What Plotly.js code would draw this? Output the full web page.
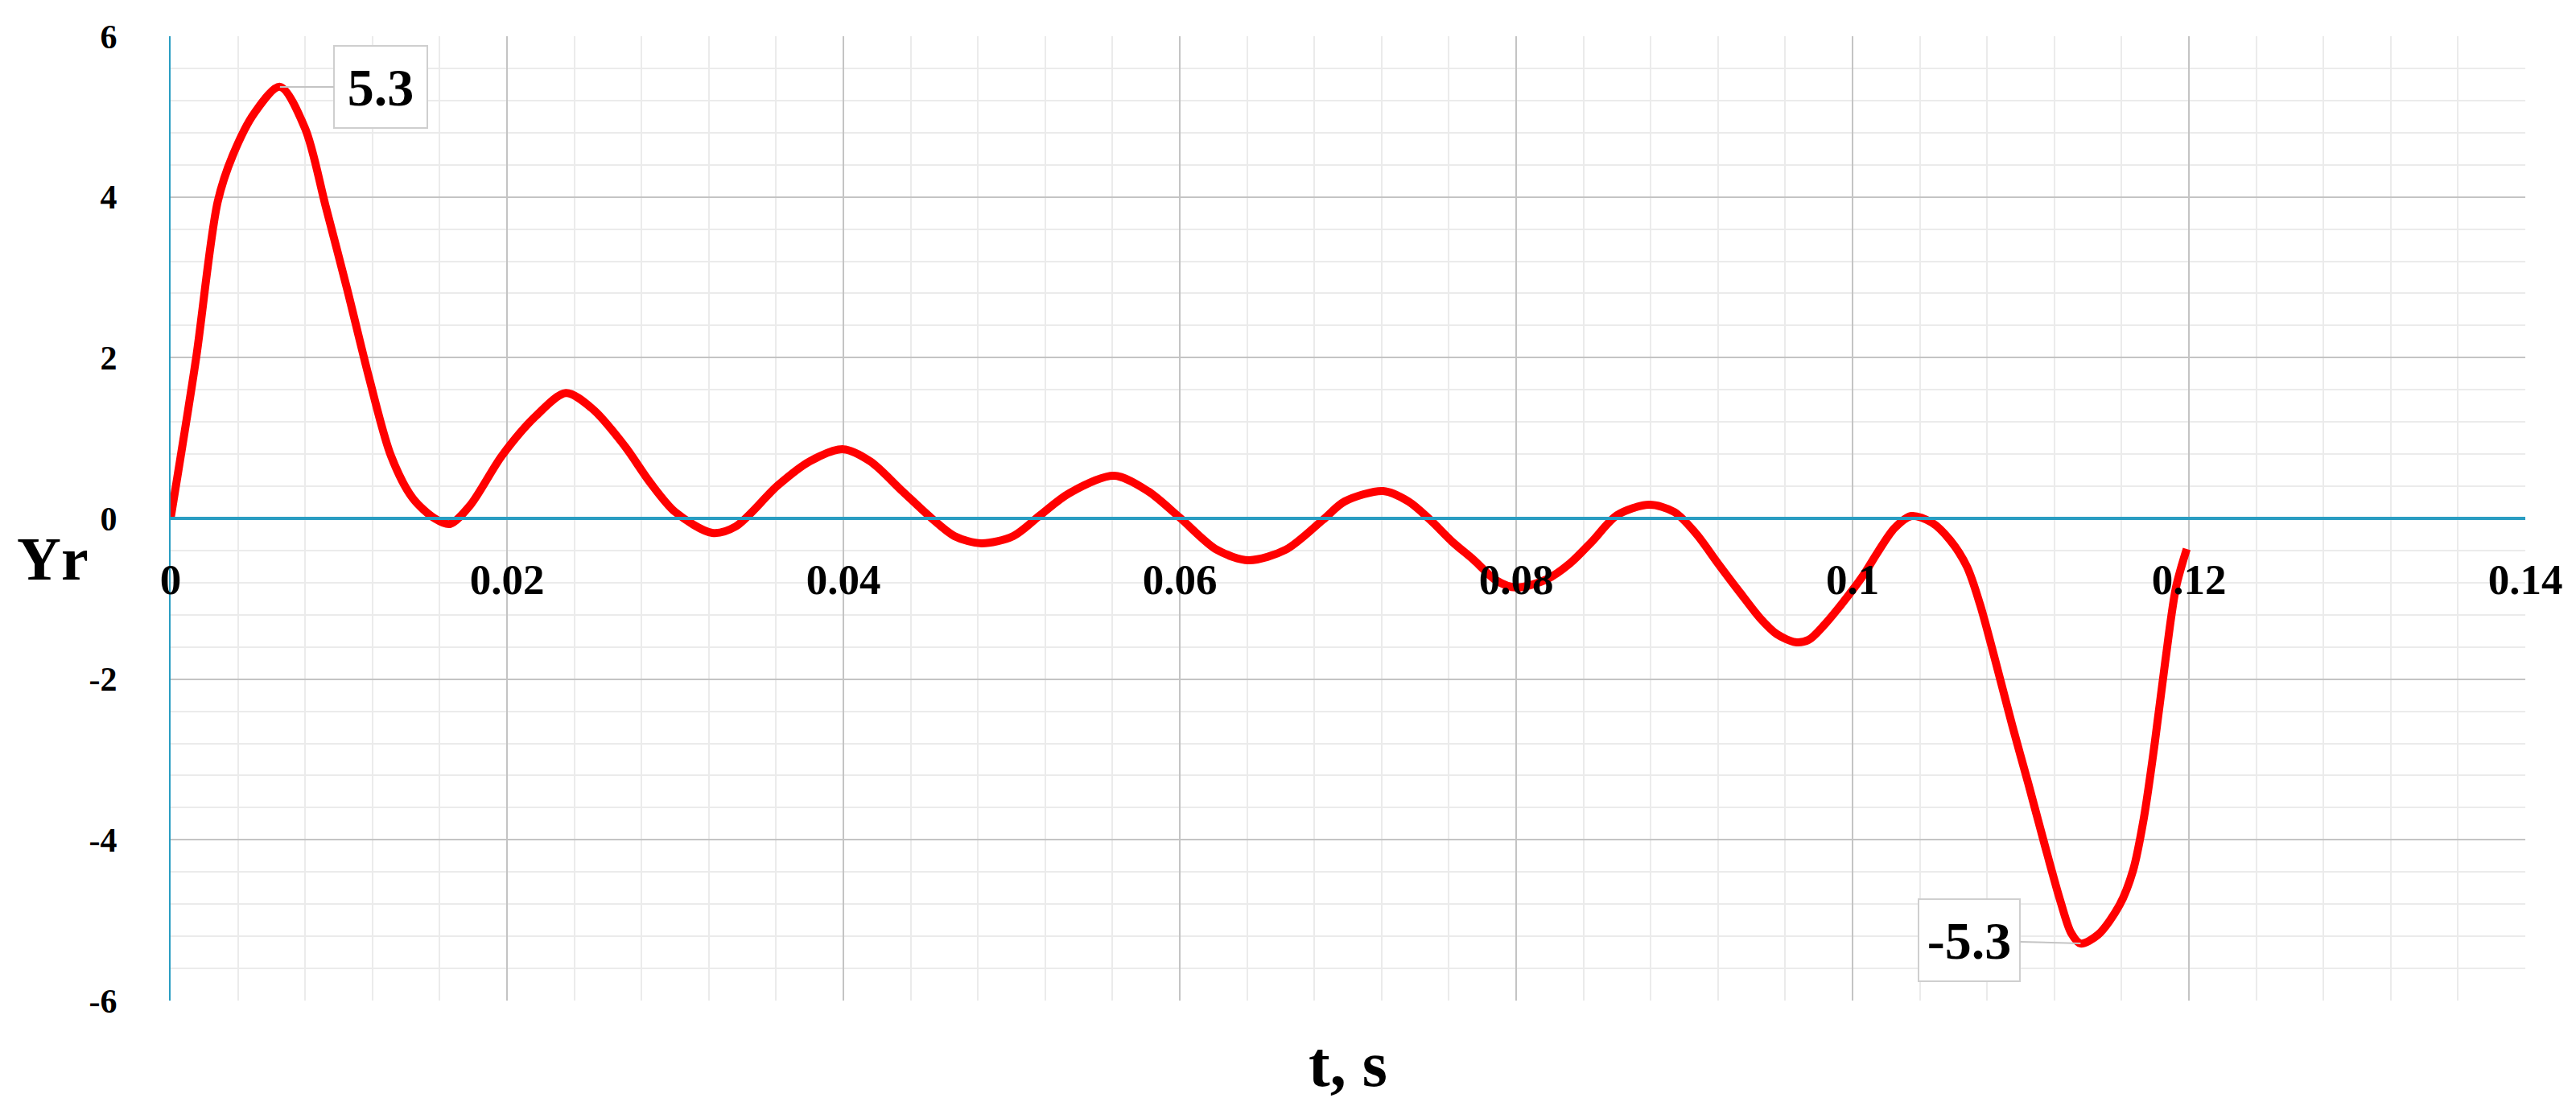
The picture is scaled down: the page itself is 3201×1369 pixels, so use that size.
<!DOCTYPE html>
<html>
<head>
<meta charset="utf-8">
<script src="https://cdn.plot.ly/plotly-3.0.1.min.js"></script>
<style>
  html, body { margin: 0; padding: 0; background: #ffffff; }
  #chart { width: 3201px; height: 1369px; }
</style>
</head>
<body>
<div id="chart"></div>
<script>
// Time (s)
const tValues = [0, 0.0015, 0.0028, 0.0037, 0.005, 0.0065, 0.008, 0.0092, 0.0105, 0.0118,
  0.0131, 0.0144, 0.0157, 0.0166, 0.0178, 0.0197, 0.0217, 0.0235, 0.0251, 0.027,
  0.0285, 0.03, 0.0322, 0.0336, 0.0361, 0.038, 0.04, 0.0416, 0.0435, 0.0452,
  0.0466, 0.0482, 0.0501, 0.0517, 0.0534, 0.0561, 0.0581, 0.06, 0.0622, 0.0641,
  0.0663, 0.0685, 0.0698, 0.0721, 0.0736, 0.0749, 0.0762, 0.0775, 0.0788, 0.08,
  0.0818, 0.0832, 0.0845, 0.086, 0.0879, 0.0894, 0.0907, 0.092, 0.0933, 0.0945,
  0.0955, 0.0966, 0.0974, 0.0983, 0.0993, 0.1006, 0.1015, 0.1025, 0.1035, 0.1047,
  0.1058, 0.1068, 0.10758, 0.10854, 0.1095, 0.11045, 0.11141, 0.11237, 0.1130, 0.11356,
  0.1146, 0.11588, 0.11668, 0.11732, 0.11796, 0.1186, 0.11923, 0.11987];
// Yr values
const yrValues = [0, 1.97, 3.94, 4.52, 5.05, 5.37, 4.85, 3.9, 2.85, 1.75,
  0.78, 0.25, 0.0, -0.07, 0.16, 0.78, 1.27, 1.56, 1.36, 0.90,
  0.45, 0.08, -0.18, -0.10, 0.41, 0.71, 0.86, 0.71, 0.34, 0.01,
  -0.22, -0.31, -0.22, 0.04, 0.31, 0.53, 0.34, 0.01, -0.39, -0.52,
  -0.39, -0.02, 0.21, 0.34, 0.21, -0.02, -0.29, -0.52, -0.77, -0.86,
  -0.76, -0.56, -0.29, 0.04, 0.17, 0.08, -0.19, -0.56, -0.92, -1.24,
  -1.44, -1.54, -1.51, -1.33, -1.08, -0.72, -0.42, -0.12, 0.03, -0.05,
  -0.27, -0.60, -1.07, -1.81, -2.58, -3.30, -4.05, -4.77, -5.16, -5.29,
  -5.18, -4.81, -4.38, -3.73, -2.81, -1.77, -0.86, -0.38];

// Data labels (extremes)
const labelT = [0.0065, 0.11356];
const labelY = [5.37, -5.29];
const labelText = ['5.3', '-5.3'];

// Tick labels
const xTickVals = [0, 0.02, 0.04, 0.06, 0.08, 0.1, 0.12, 0.14];
const xTickText = ['0', '0.02', '0.04', '0.06', '0.08', '0.1', '0.12', '0.14'];
const yTickVals = [-6, -4, -2, 0, 2, 4, 6];
const yTickText = ['-6', '-4', '-2', '0', '2', '4', '6'];

const FONT = 'Liberation Serif, Times New Roman, serif';
const TEAL = '#2a9dc2';

const trace = {
  x: tValues,
  y: yrValues,
  type: 'scatter',
  mode: 'lines',
  line: { color: '#ff0000', width: 10, shape: 'spline', smoothing: 0.85 },
  hoverinfo: 'skip'
};

const labelOffsets = [[125, 0], [-138, -4]];
const annotations = labelText.map((txt, i) => ({
  x: labelT[i], y: labelY[i], xref: 'x', yref: 'y',
  text: '<b>' + txt + '</b>',
  showarrow: true, arrowhead: 0, arrowwidth: 2, arrowcolor: '#c4c4c4',
  ax: labelOffsets[i][0], ay: labelOffsets[i][1],
  width: i === 0 ? 112 : 122, height: 98,
  bgcolor: '#ffffff', bordercolor: '#cfcfcf', borderwidth: 2,
  font: { family: FONT, size: 66, color: '#000000' }
}));

annotations.push({
  xref: 'paper', yref: 'paper', x: -0.0502, y: 0.458,
  xanchor: 'center', yanchor: 'middle', showarrow: false,
  text: '<b>Yr</b>', font: { family: FONT, size: 76, color: '#000000' }
});
annotations.push({
  xref: 'paper', yref: 'paper', x: 0.5, y: -0.066,
  xanchor: 'center', yanchor: 'middle', showarrow: false,
  text: '<b>t, s</b>', font: { family: FONT, size: 80, color: '#000000' }
});

const layout = {
  width: 3201, height: 1369,
  margin: { l: 212, r: 63, t: 45, b: 126, pad: 0 },
  paper_bgcolor: '#ffffff', plot_bgcolor: '#ffffff',
  showlegend: false,
  xaxis: {
    range: [0, 0.14], anchor: 'free', position: 0.5,
    tickmode: 'array', tickvals: xTickVals, ticktext: xTickText,
    ticks: '', ticklabelstandoff: 28,
    tickfont: { family: FONT, size: 53, color: '#000000', weight: 'bold' },
    showgrid: true, gridcolor: '#c4c4c4', gridwidth: 2,
    minor: { tickmode: 'linear', tick0: 0, dtick: 0.004, showgrid: true, gridcolor: '#ebebeb', gridwidth: 2 },
    zeroline: false, showline: true, linecolor: TEAL, linewidth: 4
  },
  yaxis: {
    range: [-6, 6],
    tickmode: 'array', tickvals: yTickVals, ticktext: yTickText,
    ticks: '', ticklabelstandoff: 56,
    tickfont: { family: FONT, size: 42, color: '#000000', weight: 'bold' },
    showgrid: true, gridcolor: '#c4c4c4', gridwidth: 2,
    minor: { tickmode: 'linear', tick0: 0, dtick: 0.4, showgrid: true, gridcolor: '#ebebeb', gridwidth: 2 },
    zeroline: false, showline: true, linecolor: TEAL, linewidth: 2
  },
  annotations: annotations
};

Plotly.newPlot('chart', [trace], layout, { staticPlot: true, displayModeBar: false });
</script>
</body>
</html>
